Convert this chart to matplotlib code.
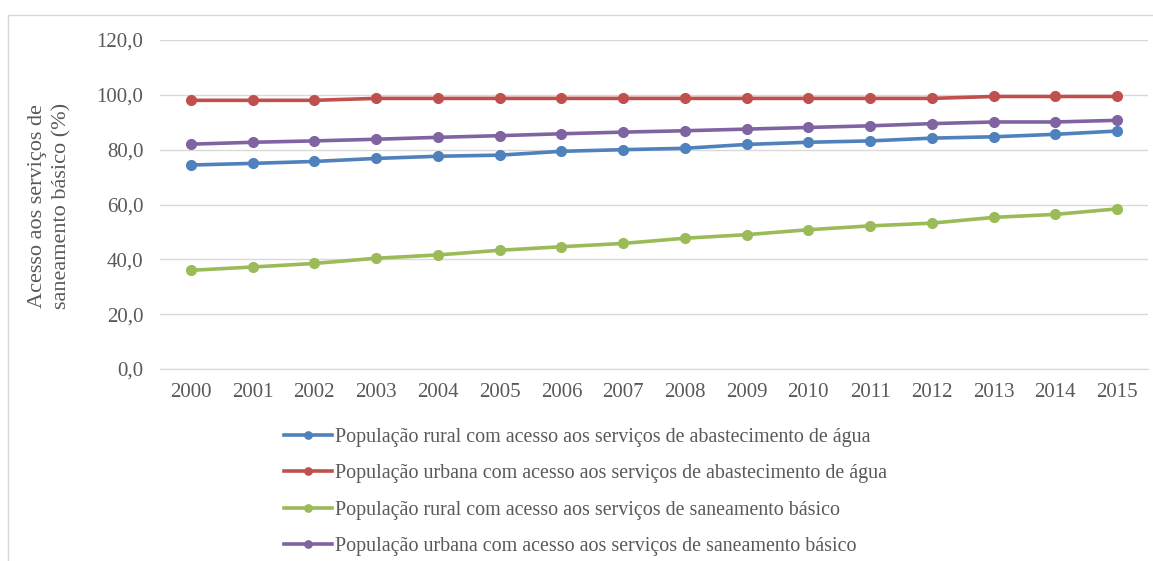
import matplotlib.pyplot as plt
from matplotlib.patches import Rectangle

years = [str(y) for y in range(2000, 2016)]

rural_agua = [74.4, 75.0, 75.7, 76.8, 77.6, 78.0, 79.4, 80.0,
              80.5, 81.9, 82.7, 83.2, 84.2, 84.7, 85.6, 86.8]
urbana_agua = [98.0, 98.0, 98.0, 98.7, 98.7, 98.7, 98.7, 98.7,
               98.7, 98.7, 98.7, 98.7, 98.7, 99.4, 99.4, 99.4]
rural_saneamento = [36.0, 37.2, 38.5, 40.4, 41.6, 43.3, 44.6, 45.8,
                    47.7, 49.0, 50.8, 52.2, 53.2, 55.3, 56.4, 58.4]
urbana_saneamento = [82.0, 82.7, 83.2, 83.8, 84.5, 85.1, 85.8, 86.4,
                     86.9, 87.5, 88.1, 88.7, 89.5, 90.1, 90.1, 90.7]

series = [
    (rural_agua, "#4F81BD", "População rural com acesso aos serviços de abastecimento de água"),
    (urbana_agua, "#C0504D", "População urbana com acesso aos serviços de abastecimento de água"),
    (rural_saneamento, "#9BBB59", "População rural com acesso aos serviços de saneamento básico"),
    (urbana_saneamento, "#8064A2", "População urbana com acesso aos serviços de saneamento básico"),
]

plt.rcParams['font.family'] = ['Liberation Serif', 'DejaVu Serif']
text_color = "#595959"

fig = plt.figure(figsize=(11.53, 5.61), dpi=100)
# light outer frame like the spreadsheet chart area
fig.patches.append(Rectangle((8 / 1153, -0.01), 1.0, 1 - 15 / 561 + 0.01,
                             transform=fig.transFigure, fill=False,
                             edgecolor="#D9D9D9", linewidth=1))

ax = fig.add_axes([160 / 1153, (561 - 369) / 561, (1148 - 160) / 1153, (369 - 40) / 561])
x = list(range(len(years)))
for values, color, label in series:
    ax.plot(x, values, color=color, linewidth=2.6, marker="o", markersize=7,
            label=label)

ax.set_xlim(-0.5, len(years) - 0.5)
ax.set_ylim(0, 120)
ax.set_yticks(range(0, 121, 20))
ax.set_yticklabels([f"{v},0" for v in range(0, 121, 20)])
ax.set_xticks(x)
ax.set_xticklabels(years)
ax.grid(axis="y", color="#D9D9D9", linewidth=1)
ax.set_axisbelow(True)
for side in ["top", "right", "left"]:
    ax.spines[side].set_visible(False)
ax.spines["bottom"].set_color("#D9D9D9")
ax.tick_params(length=0, labelsize=15, colors=text_color)
ax.tick_params(axis="x", pad=10)
ax.tick_params(axis="y", pad=12)

fig.text(50 / 1153, (561 - 206) / 561,
         "Acesso aos serviços de\nsaneamento básico (%)",
         rotation=90, ha="center", va="center", fontsize=16,
         color=text_color, linespacing=1.35)

fig.legend(loc="upper left", bbox_to_anchor=(266 / 1153, (561 - 410) / 561),
           frameon=False, fontsize=14.4, handlelength=2.4, handletextpad=0.15,
           labelspacing=0.87, labelcolor=text_color, markerscale=0.75)

fig.savefig("out.png", dpi=100)
